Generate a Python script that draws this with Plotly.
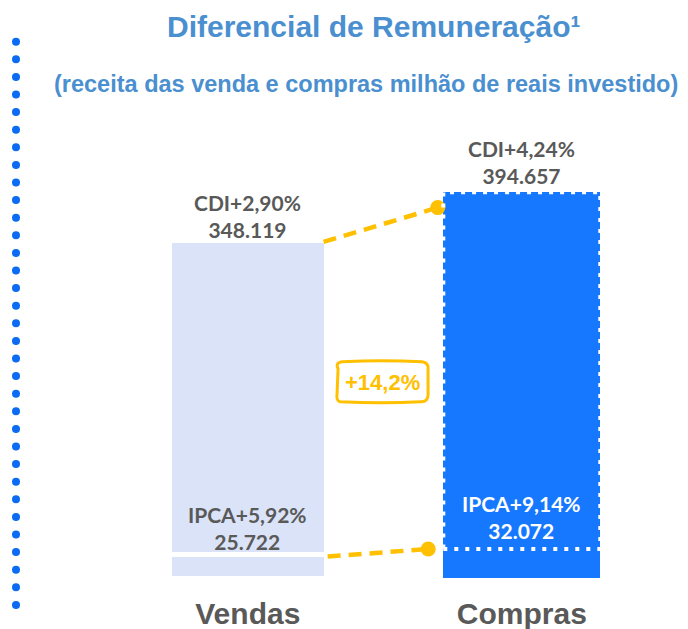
import plotly.graph_objects as go

# ---- data ----
categories = ["Vendas", "Compras"]
ipca_values = [25.722, 32.072]
cdi_values = [348.119, 394.657]
ipca_rates = ["IPCA+5,92%", "IPCA+9,14%"]
cdi_rates = ["CDI+2,90%", "CDI+4,24%"]
diff_label = "+14,2%"

title_text = "Diferencial de Remuneração¹"
subtitle_text = "(receita das venda e compras milhão de reais investido)"

# ---- style ----
OFF = 8                     # page body margin
W, H = 688 - OFF, 629 - OFF
MT, MB = 92, 51
PLOT_H = H - MT - MB
PX_PER_UNIT = 0.904
Y_MAX = PLOT_H / PX_PER_UNIT
PX_PER_CAT = 274
BAR_W = 0.573
LIGHT = "#DAE3F7"
BLUE = "#1677FF"
YELLOW = "#FFC000"
GRAY = "#595959"
TITLE_BLUE = "#4A8FCF"
DOT_BLUE = "#0B6BF2"

xs = list(range(len(categories)))
totals = [a + b for a, b in zip(ipca_values, cdi_values)]


def fmt(v):
    return f"{v:.3f}"


def paper_y(py):
    return 1 + (MT - py) / PLOT_H


fig = go.Figure()
line_w = [5, 0]
fig.add_trace(go.Bar(x=xs, y=ipca_values, width=BAR_W,
                     marker=dict(color=[LIGHT, BLUE], line=dict(color="white", width=line_w)),
                     hoverinfo="skip"))
fig.add_trace(go.Bar(x=xs, y=cdi_values, width=BAR_W,
                     marker=dict(color=[LIGHT, BLUE], line=dict(color="white", width=line_w)),
                     hoverinfo="skip"))

# connectors
top_start = (xs[0] + BAR_W / 2 - 0.01, totals[0] - 2)
top_end = (xs[1] - BAR_W / 2 - 0.02, totals[1] - 17)
low_start = (xs[0] + BAR_W / 2 + 0.005, ipca_values[0] - 2)
low_end = (xs[1] - BAR_W / 2 - 0.055, ipca_values[1])
for s, e in [(top_start, top_end), (low_start, low_end)]:
    fig.add_trace(go.Scatter(x=[s[0], e[0]], y=[s[1], e[1]], mode="lines",
                             line=dict(color=YELLOW, width=4.5, dash="13px,8px"),
                             cliponaxis=False, hoverinfo="skip"))
    fig.add_trace(go.Scatter(x=[e[0]], y=[e[1]], mode="markers",
                             marker=dict(color=YELLOW, size=15),
                             cliponaxis=False, hoverinfo="skip"))

shapes = []
# dotted outline of the Compras CDI segment
shapes.append(dict(type="rect", xref="x", yref="y",
                   x0=xs[1] - BAR_W / 2, x1=xs[1] + BAR_W / 2,
                   y0=ipca_values[1], y1=totals[1],
                   line=dict(color="white", width=4, dash="4px,7px"), layer="above"))

# hand-drawn box around the difference label
diff_x, diff_y = 0.49, 216
box_path = ("M -44,14 Q -47,20 -40,21 Q 0,23 40,21 Q 47,20 46,13 L 46,-12 "
            "Q 46,-19 39,-19 Q 0,-21 -42,-19 Q -46,-18 -45,-11 Z")
shapes.append(dict(type="path", xref="x", yref="y", xsizemode="pixel", ysizemode="pixel",
                   xanchor=diff_x, yanchor=diff_y, path=box_path,
                   line=dict(color=YELLOW, width=3), layer="above"))

# left decorative dotted line
n_dots = 33
for i in range(n_dots):
    py = 41.7 - OFF + i * 17.6
    shapes.append(dict(type="circle", xref="paper", yref="paper",
                       xsizemode="pixel", ysizemode="pixel",
                       xanchor=(16 - OFF) / W, yanchor=paper_y(py),
                       x0=-4, x1=4, y0=-4, y1=4,
                       fillcolor=DOT_BLUE, line=dict(width=0)))

annotations = []
cdi_shift = [-3.5, 2]
for i, x in enumerate(xs):
    annotations.append(dict(x=x, y=totals[i], xref="x", yref="y",
                            text=f"{cdi_rates[i]}<br>{fmt(cdi_values[i])}",
                            showarrow=False, yanchor="bottom", yshift=cdi_shift[i],
                            font=dict(family="Lato", size=21, color=GRAY, weight="bold")))
ipca_shift = [-1, 4]
ipca_colors = [GRAY, "white"]
for i, x in enumerate(xs):
    annotations.append(dict(x=x, y=ipca_values[i], xref="x", yref="y",
                            text=f"{ipca_rates[i]}<br>{fmt(ipca_values[i])}",
                            showarrow=False, yanchor="bottom", yshift=ipca_shift[i],
                            font=dict(family="Lato", size=21, color=ipca_colors[i], weight="bold")))

annotations.append(dict(x=diff_x, y=diff_y, xref="x", yref="y", text=diff_label,
                        showarrow=False,
                        font=dict(family="Arial, Liberation Sans", size=22, color=YELLOW, weight="bold")))

annotations.append(dict(x=(373 - OFF) / W, y=paper_y(27 - OFF - 1), xref="paper", yref="paper",
                        text=title_text, showarrow=False, yanchor="middle",
                        font=dict(family="Arial, Liberation Sans", size=30, color=TITLE_BLUE, weight="bold")))
annotations.append(dict(x=(366 - OFF) / W, y=paper_y(83 - OFF + 1), xref="paper", yref="paper",
                        text=subtitle_text, showarrow=False, yanchor="middle",
                        font=dict(family="Arial, Liberation Sans", size=23.5, color=TITLE_BLUE, weight="bold")))

x0 = -(247.8 - OFF) / PX_PER_CAT
fig.update_layout(
    width=W, height=H,
    margin=dict(l=0, r=0, t=MT, b=MB, pad=0),
    barmode="stack", showlegend=False,
    plot_bgcolor="white", paper_bgcolor="white",
    shapes=shapes, annotations=annotations,
    xaxis=dict(range=[x0, x0 + W / PX_PER_CAT], tickvals=xs, ticktext=categories,
               tickfont=dict(family="Arial, Liberation Sans", size=30, color=GRAY, weight="bold"),
               showgrid=False, zeroline=False, showline=False, ticks="",
               ticklabelstandoff=15, automargin=False, fixedrange=True),
    yaxis=dict(range=[0, Y_MAX], visible=False, fixedrange=True),
)

fig.write_html("out.html")
